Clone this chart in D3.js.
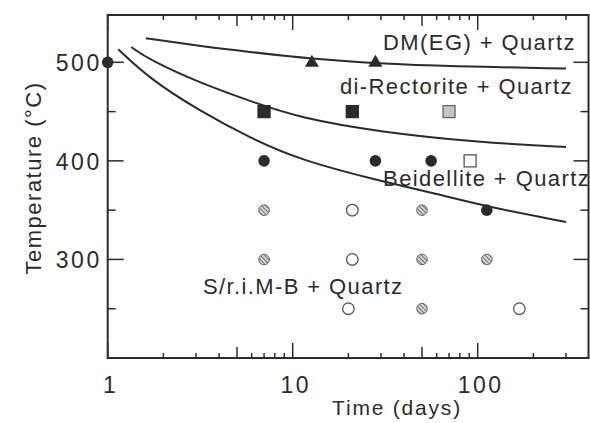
<!DOCTYPE html>
<html>
<head>
<meta charset="utf-8">
<script src="https://cdn.jsdelivr.net/npm/d3@7"></script>
<style>
  body { margin: 0; background: #fff; }
  svg { display: block; font-family: "Liberation Sans", Arial, sans-serif; }
</style>
</head>
<body>
<div id="chart"></div>
<script>
// points: [days, temperature]
var filledCircles = [[1, 500], [7, 400], [28, 400], [56, 400], [112, 350]];
var triangles = [[12.7, 500], [28, 500]];
var filledSquares = [[7, 450], [21, 450]];
var graySquares = [[70, 450]];
var openSquares = [[91, 400]];
var hatchedCircles = [[7, 350], [50, 350], [7, 300], [50, 300], [112, 300], [50, 250]];
var openCircles = [[21, 350], [21, 300], [20, 250], [168, 250]];

// boundary curves
var curveDM = [[1.61, 524.4], [3.15, 516.5], [5.88, 510.5], [12.7, 503.4], [28.9, 498.8], [70.8, 496], [300, 493.7]];
var curveRect = [[1.34, 515.5], [1.69, 502.3], [3.15, 479], [5.88, 460.7], [10.95, 443.5], [29.6, 429.3], [103, 418.6], [300, 414.1]];
var curveBeid = [[1.14, 513.2], [1.69, 483.1], [3.15, 450.6], [5.88, 423.2], [10.95, 400.9], [28.2, 380.6], [60.3, 366.4], [113.7, 353.2], [300, 338]];

var xTicks = [1, 2, 3, 4, 5, 6, 7, 8, 9, 10, 20, 30, 40, 50, 60, 70, 80, 90, 100, 200, 300];
var xLabels = [1, 10, 100];
var yTicks = [250, 300, 350, 400, 450, 500];
var yLabels = [300, 400, 500];

// phase field labels: [text, days, temperature]
var fieldLabels = [
  ["DM(EG) + Quartz", 30.8, 512],
  ["di-Rectorite + Quartz", 18, 468],
  ["Beidellite + Quartz", 30.8, 375],
  ["S/r.i.M-B + Quartz", 3.27, 265]
];

function chart() {
  var W = 590, H = 423;
  var pL = 107.7, pR = 588.5, pT = 15, pB = 358;
  var ink = "#2b2b2b";

  var svg = d3.select("#chart").append("svg")
    .attr("width", W)
    .attr("height", H);

  var defs = svg.append("defs");
  var hatch = defs.append("pattern")
    .attr("id", "hatch")
    .attr("patternUnits", "userSpaceOnUse")
    .attr("width", 3)
    .attr("height", 3)
    .attr("patternTransform", "rotate(-45)");
  hatch.append("rect").attr("width", 3).attr("height", 3).attr("fill", "#d8d8d8");
  hatch.append("line").attr("x1", 0).attr("y1", 0).attr("x2", 0).attr("y2", 3)
    .attr("stroke", "#555").attr("stroke-width", 1.6);

  var x = d3.scaleLog().domain([1, 400]).range([pL, pL + Math.log10(400) * 185]);
  var y = d3.scaleLinear().domain([200, 548]).range([pB, pT]);

  function tickLen(d) {
    var m = d / Math.pow(10, Math.floor(Math.log10(d) + 1e-9));
    if (Math.abs(m - 1) < 1e-6) return 15;
    if (Math.abs(m - 5) < 1e-6) return 11;
    return 5;
  }

  // bottom and top ticks
  var xg = svg.append("g");
  xg.selectAll(".xb").data(xTicks).enter().append("line")
    .attr("x1", function(d) { return x(d); })
    .attr("x2", function(d) { return x(d); })
    .attr("y1", pB)
    .attr("y2", function(d) { return pB - tickLen(d); })
    .attr("stroke", ink).attr("stroke-width", 1.5);
  xg.selectAll(".xt").data(xTicks).enter().append("line")
    .attr("x1", function(d) { return x(d); })
    .attr("x2", function(d) { return x(d); })
    .attr("y1", pT)
    .attr("y2", function(d) { return pT + tickLen(d); })
    .attr("stroke", ink).attr("stroke-width", 1.5);

  // left and right ticks
  var yg = svg.append("g");
  yg.selectAll(".yl").data(yTicks).enter().append("line")
    .attr("x1", pL)
    .attr("x2", function(d) { return pL + (d % 100 === 0 ? 16 : 8); })
    .attr("y1", function(d) { return y(d); })
    .attr("y2", function(d) { return y(d); })
    .attr("stroke", ink).attr("stroke-width", 1.5);
  yg.selectAll(".yr").data(yTicks).enter().append("line")
    .attr("x1", pR)
    .attr("x2", function(d) { return pR - (d % 100 === 0 ? 15 : 8); })
    .attr("y1", function(d) { return y(d); })
    .attr("y2", function(d) { return y(d); })
    .attr("stroke", ink).attr("stroke-width", 1.5);

  // frame
  svg.append("rect")
    .attr("x", pL).attr("y", pT)
    .attr("width", pR - pL).attr("height", pB - pT)
    .attr("fill", "none").attr("stroke", ink).attr("stroke-width", 2);

  // tick labels
  svg.selectAll(".xlab").data(xLabels).enter().append("text")
    .attr("x", function(d) { return x(d) + 3; })
    .attr("y", 393)
    .attr("text-anchor", "middle")
    .attr("font-size", 23)
    .attr("letter-spacing", 2.5)
    .attr("fill", ink)
    .text(function(d) { return d; });

  svg.selectAll(".ylab").data(yLabels).enter().append("text")
    .attr("x", pL - 6)
    .attr("y", function(d) { return y(d) + 9; })
    .attr("text-anchor", "end")
    .attr("font-size", 23)
    .attr("letter-spacing", 2.5)
    .attr("fill", ink)
    .text(function(d) { return d; });

  // axis titles
  svg.append("text")
    .attr("x", 397).attr("y", 415)
    .attr("text-anchor", "middle")
    .attr("font-size", 21)
    .attr("letter-spacing", 1.8)
    .attr("fill", ink)
    .text("Time (days)");

  svg.append("text")
    .attr("transform", "translate(41,178) rotate(-90)")
    .attr("text-anchor", "middle")
    .attr("font-size", 22)
    .attr("letter-spacing", 1.5)
    .attr("fill", ink)
    .text("Temperature (°C)");

  // curves
  var line = d3.line()
    .curve(d3.curveBasis)
    .x(function(d) { return x(d[0]); })
    .y(function(d) { return y(d[1]); });

  svg.selectAll(".boundary").data([curveDM, curveRect, curveBeid]).enter().append("path")
    .attr("class", "boundary")
    .attr("d", line)
    .attr("fill", "none")
    .attr("stroke", ink)
    .attr("stroke-width", 2);

  // field labels
  svg.selectAll(".field").data(fieldLabels).enter().append("text")
    .attr("x", function(d) { return x(d[1]); })
    .attr("y", function(d) { return y(d[2]); })
    .attr("font-size", 22)
    .attr("letter-spacing", 1.4)
    .attr("fill", ink)
    .text(function(d) { return d[0]; });

  // markers
  var r = 5.8, s = 12;

  svg.selectAll(".fc").data(filledCircles).enter().append("circle")
    .attr("cx", function(d) { return x(d[0]); })
    .attr("cy", function(d) { return y(d[1]); })
    .attr("r", r)
    .attr("fill", ink);

  svg.selectAll(".hc").data(hatchedCircles).enter().append("circle")
    .attr("cx", function(d) { return x(d[0]); })
    .attr("cy", function(d) { return y(d[1]); })
    .attr("r", 5.3)
    .attr("fill", "url(#hatch)")
    .attr("stroke", "#666")
    .attr("stroke-width", 1);

  svg.selectAll(".oc").data(openCircles).enter().append("circle")
    .attr("cx", function(d) { return x(d[0]); })
    .attr("cy", function(d) { return y(d[1]); })
    .attr("r", r)
    .attr("fill", "#fff")
    .attr("stroke", "#555")
    .attr("stroke-width", 1.3);

  function squares(cls, data, fill, stroke) {
    svg.selectAll("." + cls).data(data).enter().append("rect")
      .attr("x", function(d) { return x(d[0]) - s / 2; })
      .attr("y", function(d) { return y(d[1]) - s / 2; })
      .attr("width", s)
      .attr("height", s)
      .attr("fill", fill)
      .attr("stroke", stroke)
      .attr("stroke-width", 1.3);
  }
  squares("fs", filledSquares, ink, ink);
  squares("gs", graySquares, "#c4c4c4", "#666");
  squares("os", openSquares, "#fff", "#555");

  var tri = d3.symbol().type(d3.symbolTriangle).size(85);
  svg.selectAll(".tr").data(triangles).enter().append("path")
    .attr("d", tri)
    .attr("transform", function(d) { return "translate(" + x(d[0]) + "," + (y(d[1]) + 0.5) + ")"; })
    .attr("fill", ink);
}

chart();
</script>
</body>
</html>
